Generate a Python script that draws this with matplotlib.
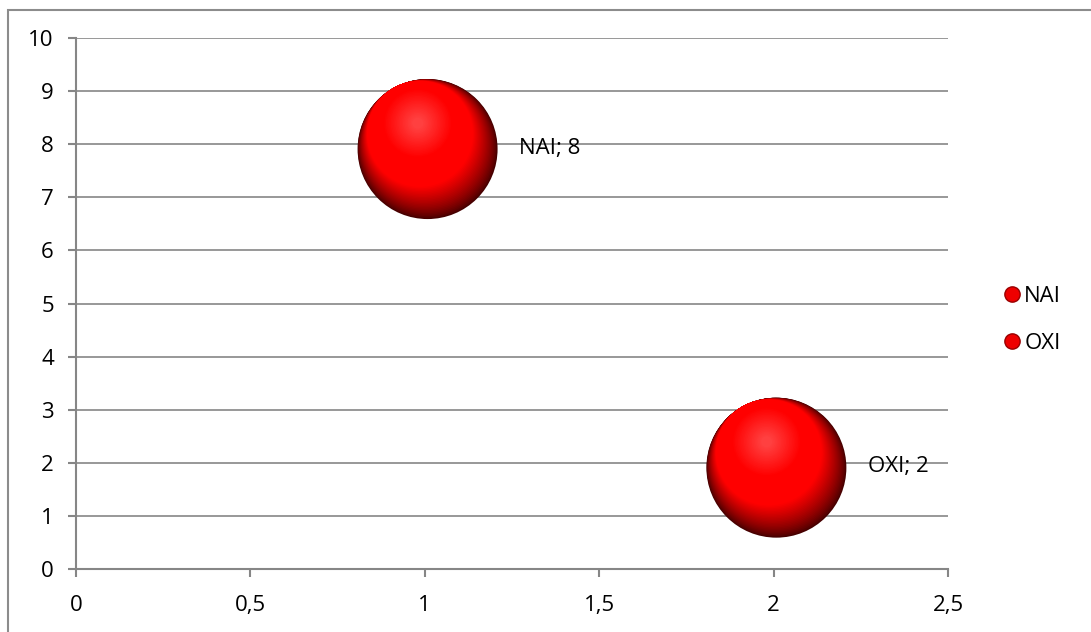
import numpy as np
import matplotlib.pyplot as plt
from matplotlib.lines import Line2D
from matplotlib.patches import Rectangle
from matplotlib.transforms import offset_copy

# data
names = ["NAI", "OXI"]
x_vals = [1, 2]
y_vals = [8, 2]
bubble_sizes = [1, 1]

x_ticks = [0, 0.5, 1, 1.5, 2, 2.5]
x_ticklabels = ["0", "0,5", "1", "1,5", "2", "2,5"]
y_ticks = list(range(0, 11))

plt.rcParams["font.family"] = ["Open Sans", "DejaVu Sans"]
grey = "#868686"
fs = 16

fig = plt.figure(figsize=(10.91, 6.32), dpi=100)
ax = fig.add_axes([76 / 1091, 1 - 569 / 632, (948 - 76) / 1091, (569 - 38) / 632])

# outer chart border
fig.patches.append(Rectangle((8 / 1091, -0.05), 1.2, 1 - 10 / 632 + 0.05,
                             transform=fig.transFigure, fill=False,
                             edgecolor="#8c8c8c", linewidth=1.5, zorder=0))

ax.set_xlim(0, 2.5)
ax.set_ylim(0, 10)
ax.set_xticks(x_ticks)
ax.set_xticklabels(x_ticklabels)
ax.set_yticks(y_ticks)
ax.yaxis.grid(True, color=grey, linewidth=1.2)
ax.set_axisbelow(True)
for side in ["top", "right"]:
    ax.spines[side].set_visible(False)
for side in ["left", "bottom"]:
    ax.spines[side].set_color(grey)
    ax.spines[side].set_linewidth(1.5)
ax.tick_params(axis="both", colors=grey, labelcolor="black", labelsize=fs,
               length=6, width=1.5)
ax.tick_params(axis="y", pad=10)
ax.tick_params(axis="x", pad=13)

# shaded spheres made of stacked discs
R = 50.4  # radius in points for a size-1 bubble
shift = np.array([2.0, -3.5])  # the 3D bubble sits a bit low/right of its point


def draw_disc(r, off, color, z):
    off = np.asarray(off) + shift
    tr = offset_copy(ax.transData, fig=fig, x=off[0], y=off[1], units="points")
    sizes = [(2 * r * b) ** 2 for b in bubble_sizes]
    ax.scatter(x_vals, y_vals, s=sizes, color=color, linewidths=0,
               transform=tr, zorder=z, clip_on=False)


shade_dir = np.array([-0.45, 0.9])
shade_dir = shade_dir / np.linalg.norm(shade_dir)
dark = np.array([0.28, 0.0, 0.0])
red = np.array([1.0, 0.0, 0.0])
n = 30
for k in range(n):
    t = k / (n - 1)
    r = R * (1 - 0.32 * t)
    c = dark + (red - dark) * min(1.0, t / 0.75) ** 0.8
    draw_disc(r, (R - r) * shade_dir, c, 3 + k * 0.001)

# soft highlight
hl_center = np.array([-0.14, 0.37]) * R
m = 20
for k in range(m):
    t = k / (m - 1)
    r = R * (0.5 - 0.42 * t)
    c = red + (np.array([1.0, 0.25, 0.25]) - red) * t
    draw_disc(r, hl_center, c, 4 + k * 0.001)

for name, x, y in zip(names, x_vals, y_vals):
    ax.annotate(f"{name}; {y}", (x, y), xytext=(68, -3), textcoords="offset points",
                ha="left", va="center", fontsize=fs, zorder=5)

handles = [Line2D([], [], marker="o", linestyle="none", markersize=11,
                  markerfacecolor="#ee0000", markeredgecolor="#990000",
                  markeredgewidth=1) for _ in names]
fig.legend(handles, names, loc="center left", bbox_to_anchor=(981 / 1091, 1 - 320 / 632),
           frameon=False, fontsize=fs, handletextpad=0.05, labelspacing=1.15,
           handlelength=1.0)

fig.savefig("out.png", dpi=100)
